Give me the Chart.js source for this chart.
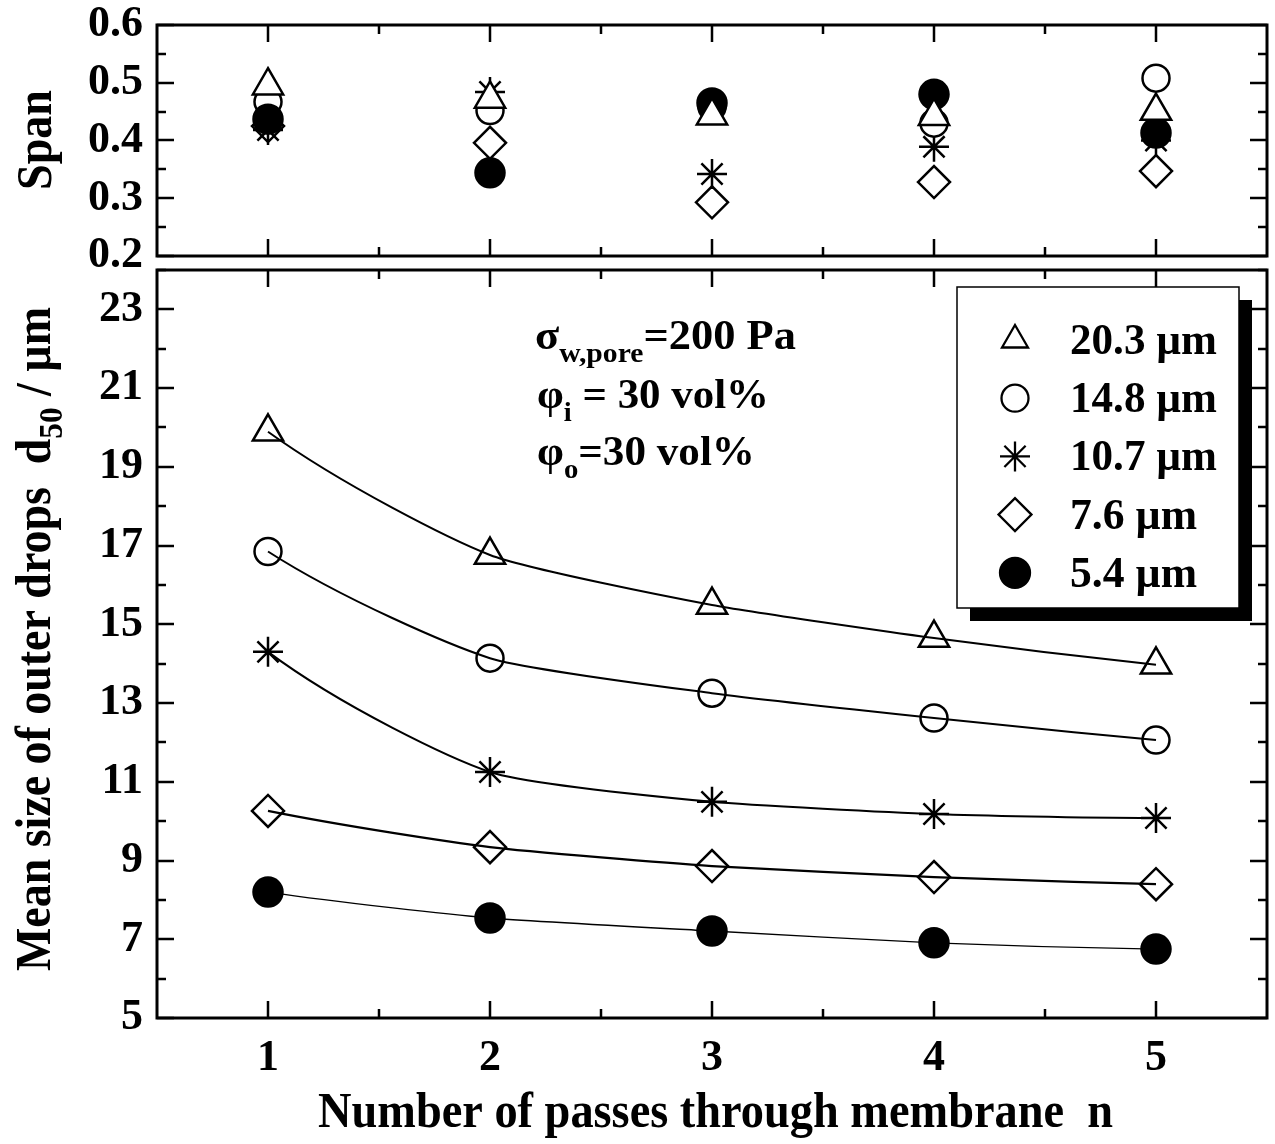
<!DOCTYPE html>
<html>
<head>
<meta charset="utf-8">
<script src="https://cdn.jsdelivr.net/npm/chart.js@4.4.0/dist/chart.umd.min.js"></script>
<style>
  html, body { margin: 0; padding: 0; background: #fff; }
  #wrap { position: relative; width: 1275px; height: 1144px; overflow: hidden; }
  #spanChart { position: absolute; left: 0; top: 0; }
  #sizeChart { position: absolute; left: 0; top: 262px; }
</style>
</head>
<body>
<div id="wrap">
  <canvas id="spanChart" width="1275" height="280"></canvas>
  <canvas id="sizeChart" width="1275" height="882"></canvas>
</div>
<script>
// passes through membrane
const passes = [1, 2, 3, 4, 5];
const dropLabels = ['20.3 µm', '14.8 µm', '10.7 µm', '7.6 µm', '5.4 µm'];

// span of outer drops (top panel)
const span203 = [0.495, 0.472, 0.443, 0.442, 0.451];
const span148 = [0.467, 0.452, 0.458, 0.430, 0.508];
const span107 = [0.418, 0.484, 0.342, 0.389, 0.400];
const span76  = [0.425, 0.396, 0.293, 0.328, 0.347];
const span54  = [0.437, 0.344, 0.465, 0.480, 0.413];

// mean size d50 / um (bottom panel)
const d50_203 = [19.89, 16.76, 15.49, 14.65, 13.97];
const d50_148 = [16.85, 14.14, 13.25, 12.62, 12.06];
const d50_107 = [14.30, 11.25, 10.49, 10.18, 10.08];
const d50_76  = [10.26, 9.34, 8.86, 8.58, 8.40];
const d50_54  = [8.20, 7.54, 7.21, 6.91, 6.75];

// axis ticks
const xMajor = [1, 2, 3, 4, 5];
const xMinor = [1.5, 2.5, 3.5, 4.5];
const spanMajor = [0.2, 0.3, 0.4, 0.5, 0.6];
const spanMinor = [0.25, 0.35, 0.45, 0.55];
const sizeMajor = [5, 7, 9, 11, 13, 15, 17, 19, 21, 23];
const sizeMinor = [6, 8, 10, 12, 14, 16, 18, 20, 22, 24];

const markers = [
  { style: 'triangle', radius: 17.5, fill: 'rgba(255,255,255,1)', order: 0 },
  { style: 'circle',   radius: 13.5, fill: 'rgba(255,255,255,1)', order: 2 },
  { style: 'star',     radius: 15,   fill: 'rgba(255,255,255,1)', order: 3 },
  { style: 'rectRot',  radius: 16,   fill: 'rgba(255,255,255,1)', order: 4 },
  { style: 'circle',   radius: 14.5, fill: '#000',                order: 1 }
];

const FONT = '"Liberation Serif", "Times New Roman", serif';
const toPts = arr => arr.map((v, i) => ({ x: passes[i], y: v }));

// draw text, optionally squeezed to a given width, with sub-parts
function drawRich(ctx, parts, x, y, width) {
  let total = 0;
  parts.forEach(p => {
    ctx.font = `bold ${p.size}px ${FONT}`;
    p.w = ctx.measureText(p.text).width;
    total += p.w;
  });
  const sx = width ? width / total : 1;
  ctx.save();
  ctx.translate(x, y);
  ctx.scale(sx, 1);
  ctx.fillStyle = '#000';
  ctx.textBaseline = 'alphabetic';
  ctx.textAlign = 'left';
  let cx = 0;
  parts.forEach(p => {
    ctx.font = `bold ${p.size}px ${FONT}`;
    ctx.fillText(p.text, cx, p.dy || 0);
    cx += p.w;
  });
  ctx.restore();
}

// box + inward ticks on all four sides
const frameTicks = {
  id: 'frameTicks',
  afterDatasetsDraw(chart, args, opts) {
    const { ctx, chartArea: a, scales: { x, y } } = chart;
    ctx.save();
    ctx.strokeStyle = '#000';
    ctx.lineWidth = 2.5;
    ctx.beginPath();
    const xt = (list, len) => list.forEach(v => {
      const px = Math.round(x.getPixelForValue(v));
      ctx.moveTo(px, a.bottom); ctx.lineTo(px, a.bottom - len);
      ctx.moveTo(px, a.top); ctx.lineTo(px, a.top + len);
    });
    const yt = (list, len) => list.forEach(v => {
      const py = Math.round(y.getPixelForValue(v));
      ctx.moveTo(a.left, py); ctx.lineTo(a.left + len, py);
      ctx.moveTo(a.right, py); ctx.lineTo(a.right - len, py);
    });
    xt(xMajor, 17); xt(xMinor, 9);
    yt(opts.major, 17); yt(opts.minor, 9);
    ctx.stroke();
    ctx.lineWidth = 3;
    ctx.strokeRect(a.left, a.top, a.right - a.left, a.bottom - a.top);
    ctx.restore();
  }
};

// smoother curve ends: tangent at first/last point from a 3-point parabola
const endTangents = {
  id: 'endTangents',
  beforeDatasetsDraw(chart) {
    chart.getSortedVisibleDatasetMetas().forEach(meta => {
      const line = meta.dataset;
      const p = meta.data;
      const n = p.length - 1;
      if (!line || n < 2) return;
      line.updateControlPoints(chart.chartArea, 'x');
      const dx0 = (-3 * p[0].x + 4 * p[1].x - p[2].x) / 2;
      const dy0 = (-3 * p[0].y + 4 * p[1].y - p[2].y) / 2;
      p[0].cp2x = p[0].x + dx0 / 3;
      p[0].cp2y = p[0].y + dy0 / 3;
      const dxn = (3 * p[n].x - 4 * p[n - 1].x + p[n - 2].x) / 2;
      const dyn = (3 * p[n].y - 4 * p[n - 1].y + p[n - 2].y) / 2;
      p[n].cp1x = p[n].x - dxn / 3;
      p[n].cp1y = p[n].y - dyn / 3;
    });
  }
};

const tickFont = { family: FONT, size: 44, weight: 'bold', lineHeight: 1 };

function xScale(show) {
  return {
    type: 'linear', min: 0.5, max: 5.5, display: show,
    grid: { display: false, drawTicks: false },
    border: { display: false },
    afterBuildTicks: s => { s.ticks = xMajor.map(value => ({ value })); },
    afterFit: s => { s.height = show ? 126 : 0; s.paddingLeft = 0; s.paddingRight = 0; },
    ticks: { autoSkip: false, maxRotation: 0, color: '#000', font: tickFont, padding: 19 }
  };
}

function yScale(min, max, major, fmt) {
  return {
    type: 'linear', min, max,
    grid: { display: false, drawTicks: false },
    border: { display: false },
    afterBuildTicks: s => { s.ticks = major.map(value => ({ value })); },
    afterFit: s => { s.width = 157; s.paddingTop = 0; s.paddingBottom = 0; },
    ticks: { autoSkip: false, color: '#000', font: tickFont, padding: 14, callback: fmt }
  };
}

// ---------- top panel: span ----------
const spanSeries = [span203, span148, span107, span76, span54];
new Chart(document.getElementById('spanChart'), {
  type: 'scatter',
  data: {
    datasets: spanSeries.map((s, i) => ({
      label: dropLabels[i],
      data: toPts(s),
      order: markers[i].order,
      pointStyle: markers[i].style,
      pointRadius: markers[i].radius,
      pointHoverRadius: markers[i].radius,
      pointBackgroundColor: markers[i].fill,
      pointBorderColor: '#000',
      pointBorderWidth: 2.5,
      showLine: false
    }))
  },
  options: {
    responsive: false, animation: false, devicePixelRatio: 1,
    layout: { autoPadding: false, padding: { top: 25, bottom: 24, left: 0, right: 8 } },
    plugins: { legend: { display: false }, tooltip: { enabled: false }, frameTicks: { major: spanMajor, minor: spanMinor } },
    scales: {
      x: xScale(false),
      y: yScale(0.2, 0.6, spanMajor, v => v.toFixed(1))
    }
  },
  plugins: [frameTicks, {
    id: 'spanTitle',
    afterDraw(chart) {
      const ctx = chart.ctx;
      ctx.save();
      ctx.translate(51, 190);
      ctx.rotate(-Math.PI / 2);
      drawRich(ctx, [{ text: 'Span', size: 50 }], 0, 0, 100);
      ctx.restore();
    }
  }]
});

// ---------- bottom panel: mean size ----------
const sizeSeries = [d50_203, d50_148, d50_107, d50_76, d50_54];
const lineWidths = [2, 2, 2, 2.2, 1.3];

new Chart(document.getElementById('sizeChart'), {
  type: 'scatter',
  data: {
    datasets: sizeSeries.map((s, i) => ({
      label: dropLabels[i],
      data: toPts(s),
      order: markers[i].order,
      pointStyle: markers[i].style,
      pointRadius: markers[i].radius,
      pointHoverRadius: markers[i].radius,
      pointBackgroundColor: i === 4 ? '#000' : 'rgba(0,0,0,0)',
      pointBorderColor: '#000',
      pointBorderWidth: 2.5,
      showLine: true,
      borderColor: '#000',
      borderWidth: lineWidths[i],
      tension: 1 / 6,
      fill: false
    }))
  },
  options: {
    responsive: false, animation: false, devicePixelRatio: 1,
    layout: { autoPadding: false, padding: { top: 8, bottom: 0, left: 0, right: 8 } },
    plugins: { legend: { display: false }, tooltip: { enabled: false }, frameTicks: { major: sizeMajor, minor: sizeMinor } },
    scales: {
      x: xScale(true),
      y: yScale(5, 24, sizeMajor, v => String(v))
    }
  },
  plugins: [endTangents, frameTicks, {
    id: 'sizeTexts',
    afterDraw(chart) {
      const ctx = chart.ctx;
      const off = 262;

      // conditions note
      drawRich(ctx, [
        { text: 'σ', size: 42 },
        { text: 'w,pore', size: 28, dy: 13 },
        { text: '=200 Pa', size: 42 }
      ], 535, 349 - off, 261);
      drawRich(ctx, [
        { text: 'φ', size: 42 },
        { text: 'i', size: 28, dy: 13 },
        { text: ' = 30 vol%', size: 42 }
      ], 537, 408 - off, 232);
      drawRich(ctx, [
        { text: 'φ', size: 42 },
        { text: 'o', size: 28, dy: 13 },
        { text: '=30 vol%', size: 42 }
      ], 537, 465 - off, 218);

      // legend box with shadow
      const bx = 957, by = 287 - off, bw = 282, bh = 321;
      ctx.save();
      ctx.fillStyle = '#000';
      ctx.fillRect(bx + 13, by + 13, bw, bh);
      ctx.fillStyle = '#fff';
      ctx.fillRect(bx, by, bw, bh);
      ctx.strokeStyle = '#000';
      ctx.lineWidth = 1.5;
      ctx.strokeRect(bx, by, bw, bh);
      const legendR = [15, 13.5, 15, 16.5, 15];
      dropLabels.forEach((lab, i) => {
        const cy = 340 - off + i * 58.2;
        ctx.fillStyle = markers[i].fill;
        ctx.strokeStyle = '#000';
        ctx.lineWidth = 2.3;
        Chart.helpers.drawPoint(ctx, { pointStyle: markers[i].style, radius: legendR[i], borderWidth: 2.3, rotation: 0 }, 1015, cy);
        const num = lab.split(' ')[0];
        const w = num.length === 4 ? 147 : 127;
        drawRich(ctx, [{ text: lab, size: 44 }], 1070, cy + 14, w);
      });
      ctx.restore();

      // axis titles
      drawRich(ctx, [{ text: 'Number of passes through membrane  n', size: 50 }], 318, 1127 - off, 795);

      ctx.save();
      ctx.translate(50, 971 - off);
      ctx.rotate(-Math.PI / 2);
      drawRich(ctx, [
        { text: 'Mean size of outer drops  d', size: 50 },
        { text: '50', size: 34, dy: 12 },
        { text: ' / µm', size: 50 }
      ], 0, 0, 664);
      ctx.restore();
    }
  }]
});
</script>
</body>
</html>
